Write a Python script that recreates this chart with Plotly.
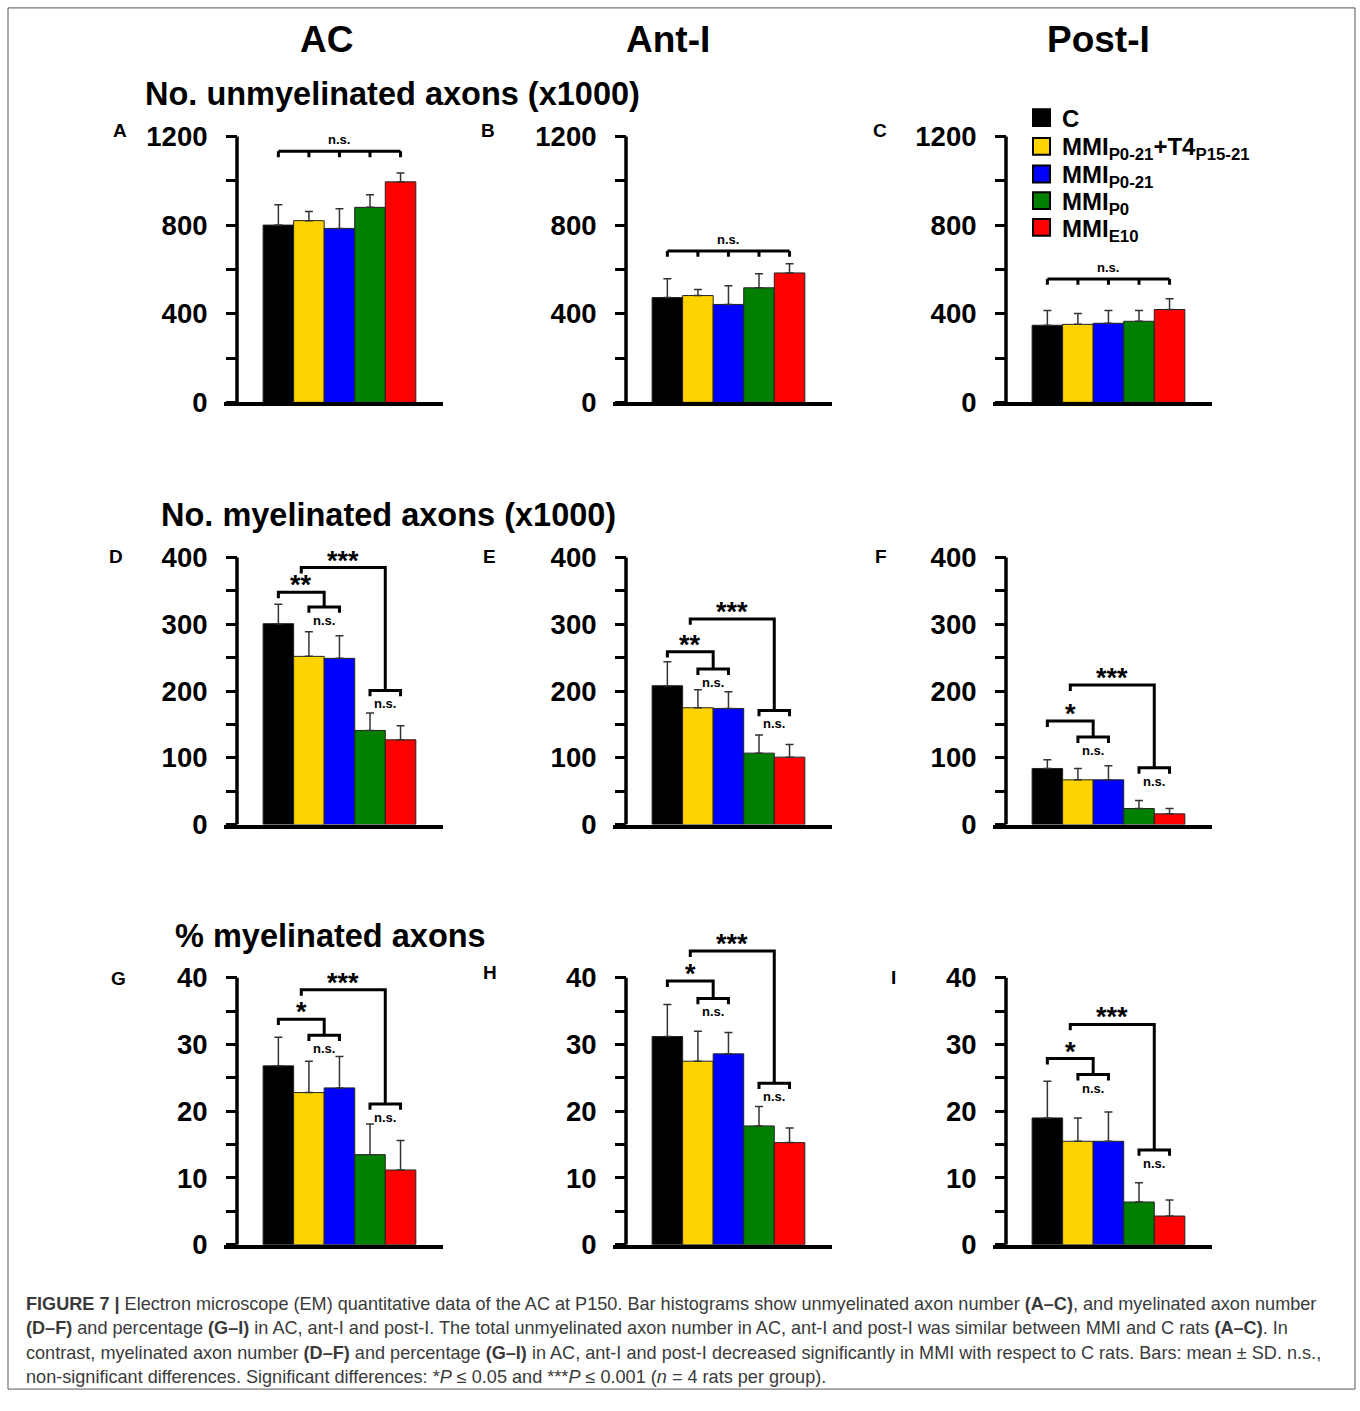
import plotly.graph_objects as go

W, H = 1360, 1411

# ---------------- data ----------------
groups = ["C", "MMI P0-21+T4 P15-21", "MMI P0-21", "MMI P0", "MMI E10"]
legend_labels = ["C", "MMI<sub>P0-21</sub>+T4<sub>P15-21</sub>", "MMI<sub>P0-21</sub>",
                 "MMI<sub>P0</sub>", "MMI<sub>E10</sub>"]
bar_colors = ["#000000", "#FFD300", "#0000FF", "#007F00", "#FF0000"]

regions = ["AC", "Ant-I", "Post-I"]
measures = ["No. unmyelinated axons (x1000)", "No. myelinated axons (x1000)", "% myelinated axons"]
panel_letters = ["A", "B", "C", "D", "E", "F", "G", "H", "I"]

# unmyelinated axons (x1000): mean and SD
unmyel_AC_mean = [800, 820, 785, 880, 995]
unmyel_AC_sd = [92, 41, 89, 57, 40]
unmyel_antI_mean = [473, 482, 442, 517, 584]
unmyel_antI_sd = [85, 27, 84, 63, 41]
unmyel_postI_mean = [348, 352, 357, 366, 419]
unmyel_postI_sd = [67, 49, 58, 49, 49]

# myelinated axons (x1000)
myel_AC_mean = [301, 252, 249, 141, 127]
myel_AC_sd = [29, 37, 34, 26, 21]
myel_antI_mean = [208, 175, 174, 107, 101]
myel_antI_sd = [36, 27, 25, 27, 19]
myel_postI_mean = [84, 67, 67, 24, 16]
myel_postI_sd = [13, 17, 21, 12, 8]

# % myelinated axons
pct_AC_mean = [26.8, 22.8, 23.5, 13.5, 11.2]
pct_AC_sd = [4.3, 4.7, 4.7, 4.6, 4.4]
pct_antI_mean = [31.2, 27.5, 28.6, 17.8, 15.3]
pct_antI_sd = [4.8, 4.5, 3.2, 2.9, 2.2]
pct_postI_mean = [19.0, 15.5, 15.5, 6.4, 4.3]
pct_postI_sd = [5.5, 3.5, 4.4, 2.9, 2.4]

panel_means = [unmyel_AC_mean, unmyel_antI_mean, unmyel_postI_mean,
               myel_AC_mean, myel_antI_mean, myel_postI_mean,
               pct_AC_mean, pct_antI_mean, pct_postI_mean]
panel_sds = [unmyel_AC_sd, unmyel_antI_sd, unmyel_postI_sd,
             myel_AC_sd, myel_antI_sd, myel_postI_sd,
             pct_AC_sd, pct_antI_sd, pct_postI_sd]

# y axis scales per row
row_ymax = [1200, 400, 40]
row_minor = [200, 50, 5]
row_major = [400, 100, 10]

# significance brackets
ns_all_level = [1133, 683, 557]                       # row 1 (all groups n.s.)
sig1_level = [348, 259, 155, 33.8, 39.5, 27.9]        # C vs MMI P0-21(+T4)
sig1_label = ["**", "**", "*", "*", "*", "*"]
ns12_level = [326, 233, 131, 31.4, 36.9, 25.5]
sig2_level = [385, 308, 209, 38.2, 44.0, 33.0]        # C vs MMI P0 / E10
sig2_label = ["***", "***", "***", "***", "***", "***"]
ns34_level = [201, 171, 85, 21.1, 24.2, 14.2]

caption_lines = [
    "<b>FIGURE 7 |</b> Electron microscope (EM) quantitative data of the AC at P150. Bar histograms show unmyelinated axon number <b>(A–C)</b>, and myelinated axon number",
    "<b>(D–F)</b> and percentage <b>(G–I)</b> in AC, ant-I and post-I. The total unmyelinated axon number in AC, ant-I and post-I was similar between MMI and C rats <b>(A–C)</b>. In",
    "contrast, myelinated axon number <b>(D–F)</b> and percentage <b>(G–I)</b> in AC, ant-I and post-I decreased significantly in MMI with respect to C rats. Bars: mean ± SD. n.s.,",
    "non-significant differences. Significant differences: *<i>P</i> ≤ 0.05 and ***<i>P</i> ≤ 0.001 (<i>n</i> = 4 rats per group).",
]

# ---------------- layout geometry (pixels) ----------------
FONT = "Liberation Sans, Arial, sans-serif"
col_axis_px = [237, 626, 1006]
row_zero_px = [407, 834, 1259]
row_top_px = [138, 564, 989]
EXT = 1.15
X_RANGE = [-1.78, 5.39]

fig = go.Figure()
layout = dict(
    width=W, height=H, margin=dict(l=0, r=0, t=0, b=0),
    paper_bgcolor="white", plot_bgcolor="rgba(0,0,0,0)",
    showlegend=False, barmode="overlay",
    font=dict(family=FONT, color="black"),
)
shapes = []
annotations = []

x_idx = list(range(len(groups)))

for k in range(9):
    r, c = divmod(k, 3)
    sfx = "" if k == 0 else str(k + 1)
    xa, ya = "x" + sfx, "y" + sfx
    a = col_axis_px[c]
    zero, top = row_zero_px[r], row_top_px[r]
    ymax = row_ymax[r]
    ytop_px = zero - EXT * (zero - top)
    layout["xaxis" + sfx] = dict(
        domain=[(a - 13) / W, (a + 206) / W], range=X_RANGE, anchor=ya,
        showline=True, linewidth=3.5, linecolor="black", ticks="",
        showticklabels=False, showgrid=False, zeroline=False, fixedrange=True,
    )
    tv = [i * row_minor[r] for i in range(int(ymax / row_minor[r]) + 1)]
    tt = [str(v) if v % row_major[r] == 0 else "" for v in tv]
    layout["yaxis" + sfx] = dict(
        domain=[1 - zero / H, 1 - ytop_px / H], range=[0, ymax * EXT],
        anchor="free", position=a / W,
        showline=False, ticks="outside", ticklen=11, tickwidth=3, tickcolor="black",
        tickvals=tv, ticktext=tt, ticklabelstandoff=13,
        tickfont=dict(family=FONT, size=27.5, color="black", weight="bold"),
        showgrid=False, zeroline=False, fixedrange=True,
    )
    # y axis line only up to the top tick
    shapes.append(dict(type="line", xref="paper", yref=ya, x0=a / W, x1=a / W,
                       y0=0, y1=ymax, line=dict(color="black", width=3.5)))

    fig.add_trace(go.Bar(
        x=x_idx, y=panel_means[k], width=1, xaxis=xa, yaxis=ya,
        marker=dict(color=bar_colors, line=dict(color="#222222", width=1)),
        error_y=dict(type="data", array=panel_sds[k], arrayminus=[0] * 5, symmetric=False,
                     color="#333333", thickness=1.5, width=4),
        showlegend=False, hoverinfo="skip",
    ))

    drop = 0.022 * ymax
    if r == 0:
        L = ns_all_level[c]
        bx, by = [0, 4, None], [L, L, None]
        for i in x_idx:
            bx += [i, i, None]
            by += [L, L - drop, None]
        fig.add_trace(go.Scatter(x=bx, y=by, mode="lines", xaxis=xa, yaxis=ya,
                                 line=dict(color="black", width=3), showlegend=False,
                                 hoverinfo="skip"))
        annotations.append(dict(x=2, y=L, xref=xa, yref=ya, text="<b>n.s.</b>",
                                showarrow=False, yanchor="bottom", yshift=2,
                                font=dict(size=13, family=FONT)))
    else:
        j = k - 3
        s1, n12, s2, n34 = sig1_level[j], ns12_level[j], sig2_level[j], ns34_level[j]
        bx = [0, 0, 1.5, 1.5, None, 1, 1, 2, 2, None,
              0.75, 0.75, 3.5, 3.5, None, 3, 3, 4, 4]
        by = [s1 - drop, s1, s1, n12, None, n12 - drop, n12, n12, n12 - drop, None,
              s2 - drop, s2, s2, n34, None, n34 - drop, n34, n34, n34 - drop]
        fig.add_trace(go.Scatter(x=bx, y=by, mode="lines", xaxis=xa, yaxis=ya,
                                 line=dict(color="black", width=3), showlegend=False,
                                 hoverinfo="skip"))
        annotations += [
            dict(x=0.75, y=s1, xref=xa, yref=ya, text="<b>%s</b>" % sig1_label[j],
                 showarrow=False, yanchor="bottom", yshift=-10, font=dict(size=27, family=FONT)),
            dict(x=(0.75 + 3.5) / 2, y=s2, xref=xa, yref=ya, text="<b>%s</b>" % sig2_label[j],
                 showarrow=False, yanchor="bottom", yshift=-10, font=dict(size=27, family=FONT)),
            dict(x=1.5, y=n12, xref=xa, yref=ya, text="<b>n.s.</b>",
                 showarrow=False, yanchor="top", yshift=-4, font=dict(size=13, family=FONT)),
            dict(x=3.5, y=n34, xref=xa, yref=ya, text="<b>n.s.</b>",
                 showarrow=False, yanchor="top", yshift=-4, font=dict(size=13, family=FONT)),
        ]

# legend (drawn as key squares + labels)
legend_y_px = [119, 148, 176, 203, 230]
for i, lab in enumerate(legend_labels):
    cy = legend_y_px[i]
    shapes.append(dict(type="rect", xref="paper", yref="paper",
                       x0=1033 / W, x1=1050 / W, y0=1 - (cy + 8.5) / H, y1=1 - (cy - 8.5) / H,
                       fillcolor=bar_colors[i], line=dict(color="black", width=2)))
    annotations.append(dict(x=1060 / W, y=1 - (cy - 15) / H, xref="paper", yref="paper",
                            text="<b>%s</b>" % lab, showarrow=False, xanchor="left", yanchor="top",
                            font=dict(size=24, family=FONT, color="black")))

# panel letters
letter_pos = [(120, 132), (488, 132), (880, 132), (116, 563), (489, 563), (881, 563),
              (119, 990), (490, 984), (893, 989)]
for lt, (px, py) in zip(panel_letters, letter_pos):
    annotations.append(dict(x=px / W, y=1 - py / H, xref="paper", yref="paper", text="<b>%s</b>" % lt,
                            showarrow=False, xanchor="center", yanchor="middle",
                            font=dict(size=19, family=FONT)))

# column titles
for name, px in zip(regions, [326, 668, 1098]):
    annotations.append(dict(x=px / W, y=1 - 40 / H, xref="paper", yref="paper", text="<b>%s</b>" % name,
                            showarrow=False, xanchor="center", yanchor="middle",
                            font=dict(size=37, family=FONT)))
# row titles
for name, (px, py) in zip(measures, [(393, 95), (388, 521), (330, 947)]):
    annotations.append(dict(x=px / W, y=1 - py / H, xref="paper", yref="paper", text="<b>%s</b>" % name,
                            showarrow=False, xanchor="center", yanchor="middle",
                            font=dict(size=32.5, family=FONT)))

# caption
for i, line in enumerate(caption_lines):
    annotations.append(dict(x=24 / W, y=1 - (1319 + 24.7 * i) / H, xref="paper", yref="paper",
                            text=line, showarrow=False, xanchor="left", yanchor="middle",
                            font=dict(size=18.1, family=FONT, color="#3a3a3a")))

# frame
shapes.append(dict(type="rect", xref="paper", yref="paper", x0=8 / W, x1=1355 / W,
                   y0=1 - 1405 / H, y1=1 - 8 / H, line=dict(color="#555555", width=1),
                   layer="below"))

layout["shapes"] = shapes
layout["annotations"] = annotations
fig.update_layout(**layout)
fig.write_html("out.html", config={"displayModeBar": False},
               post_script="document.body.style.margin='0';document.body.style.overflow='hidden';")
